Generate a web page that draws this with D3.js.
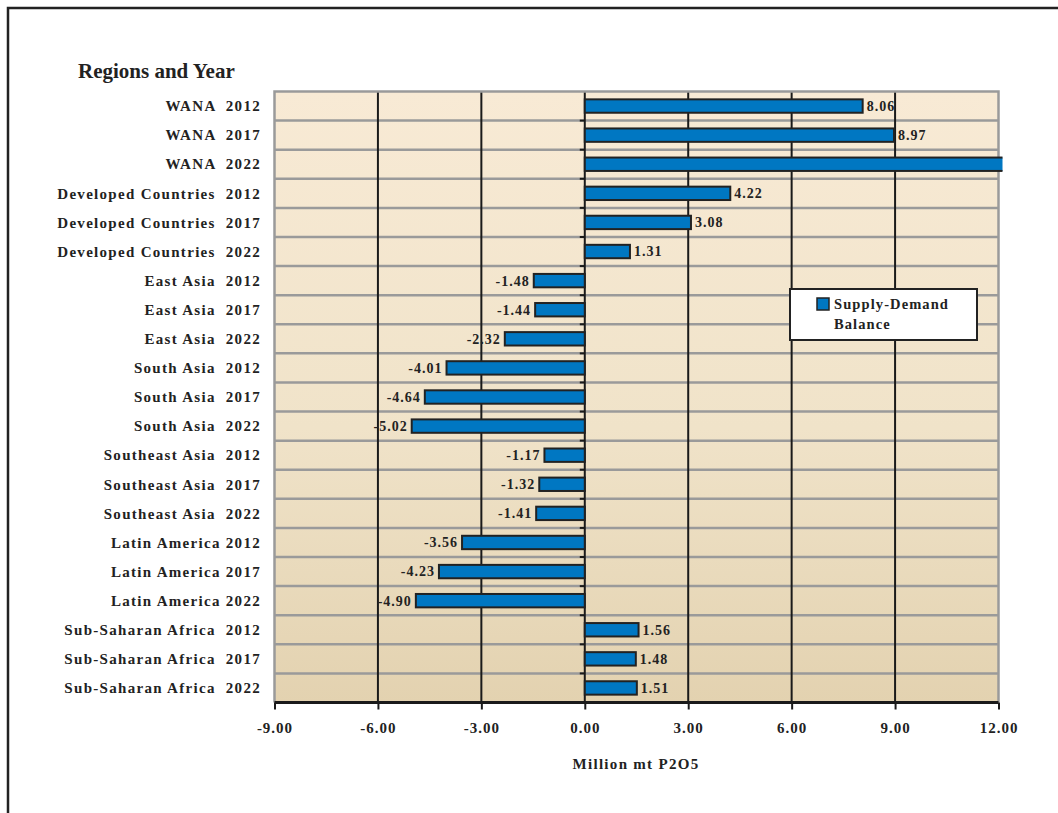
<!DOCTYPE html>
<html>
<head>
<meta charset="utf-8">
<script src="https://cdn.jsdelivr.net/npm/d3@7"></script>
<style>
  html, body { margin: 0; padding: 0; background: #fff; }
  svg { display: block; }
  text { font-family: "Liberation Serif", "Times New Roman", serif; font-weight: bold; fill: #222; }
</style>
</head>
<body>
<svg id="chart" width="1058" height="813"></svg>
<script>
// Regions/years, top to bottom
const categories = [
  "WANA  2012", "WANA  2017", "WANA  2022",
  "Developed Countries  2012", "Developed Countries  2017", "Developed Countries  2022",
  "East Asia  2012", "East Asia  2017", "East Asia  2022",
  "South Asia  2012", "South Asia  2017", "South Asia  2022",
  "Southeast Asia  2012", "Southeast Asia  2017", "Southeast Asia  2022",
  "Latin America 2012", "Latin America 2017", "Latin America 2022",
  "Sub-Saharan Africa  2012", "Sub-Saharan Africa  2017", "Sub-Saharan Africa  2022"
];
// Supply-demand balance, million mt P2O5
const balance = [
  8.06, 8.97, 12.6,
  4.22, 3.08, 1.31,
  -1.48, -1.44, -2.32,
  -4.01, -4.64, -5.02,
  -1.17, -1.32, -1.41,
  -3.56, -4.23, -4.90,
  1.56, 1.48, 1.51
];
const xTicks = [-9, -6, -3, 0, 3, 6, 9, 12];

const rows = categories.map((c, i) => ({ cat: c, value: balance[i] }));

const svg = d3.select("#chart");
const m = { left: 274.5, right: 998.5, top: 91.5, bottom: 702.5 };

const x = d3.scaleLinear().domain([-9, 12]).range([m.left, m.right]);
const y = d3.scaleBand().domain(categories).range([m.top, m.bottom]).paddingInner(0.54).paddingOuter(0.27);
const step = y.step();

// outer frame
svg.append("rect").attr("x", 8).attr("y", 8).attr("width", 1070).attr("height", 830)
  .attr("fill", "none").attr("stroke", "#222").attr("stroke-width", 2.5);

// plot background gradient
const defs = svg.append("defs");
const grad = defs.append("linearGradient").attr("id", "bg").attr("x1", 0).attr("y1", 0).attr("x2", 0).attr("y2", 1);
grad.append("stop").attr("offset", "0%").attr("stop-color", "#f8ead5");
grad.append("stop").attr("offset", "55%").attr("stop-color", "#f0e3c9");
grad.append("stop").attr("offset", "100%").attr("stop-color", "#e3d2b0");
defs.append("clipPath").attr("id", "plotClip").append("rect")
  .attr("x", m.left - 2).attr("y", m.top - 2).attr("width", m.right - m.left + 6).attr("height", m.bottom - m.top + 4);

svg.append("rect").attr("x", m.left).attr("y", m.top).attr("width", m.right - m.left).attr("height", m.bottom - m.top)
  .attr("fill", "url(#bg)");

// horizontal separators between rows
const rowBounds = d3.range(1, categories.length).map(i => m.top + i * step);
svg.append("g").selectAll("line").data(rowBounds).join("line")
  .attr("x1", m.left).attr("x2", m.right).attr("y1", d => d).attr("y2", d => d)
  .attr("stroke", "#9a9a9a").attr("stroke-width", 2.5);

// vertical gridlines
svg.append("g").selectAll("line").data(xTicks.filter(t => t > -9 && t < 12)).join("line")
  .attr("x1", d => x(d)).attr("x2", d => x(d)).attr("y1", m.top).attr("y2", m.bottom)
  .attr("stroke", "#1a1a1a").attr("stroke-width", 2);

// plot border (grey top/left/right)
svg.append("path")
  .attr("d", `M${m.left},${m.bottom}V${m.top}H${m.right}V${m.bottom}`)
  .attr("fill", "none").attr("stroke", "#9a9a9a").attr("stroke-width", 2.5);

// small ticks on the zero line at row boundaries
svg.append("g").selectAll("line").data(rowBounds).join("line")
  .attr("x1", x(0) - 5).attr("x2", x(0)).attr("y1", d => d).attr("y2", d => d)
  .attr("stroke", "#1a1a1a").attr("stroke-width", 2);

// bars
svg.append("g").attr("clip-path", "url(#plotClip)").selectAll("rect").data(rows).join("rect")
  .attr("x", d => x(Math.min(0, d.value)))
  .attr("y", d => y(d.cat))
  .attr("width", d => Math.abs(x(d.value) - x(0)))
  .attr("height", y.bandwidth())
  .attr("fill", "#0077c2").attr("stroke", "#222").attr("stroke-width", 2);

// value labels (bars running past the axis end carry none)
svg.append("g").selectAll("text").data(rows.filter(d => d.value <= 12)).join("text")
  .attr("x", d => d.value >= 0 ? x(d.value) + 4 : x(d.value) - 4)
  .attr("y", d => y(d.cat) + y.bandwidth() / 2)
  .attr("dy", "0.35em")
  .attr("text-anchor", d => d.value >= 0 ? "start" : "end")
  .attr("font-size", 14).attr("letter-spacing", 1)
  .text(d => d.value.toFixed(2));

// category labels
svg.append("g").selectAll("text").data(categories).join("text")
  .attr("x", 261).attr("y", d => y(d) + y.bandwidth() / 2)
  .attr("dy", "0.35em").attr("text-anchor", "end").attr("font-size", 15)
  .attr("letter-spacing", 1.3)
  .attr("xml:space", "preserve")
  .text(d => d);

// x axis
const xAxis = svg.append("g").attr("transform", `translate(0,${m.bottom})`)
  .call(d3.axisBottom(x).tickValues(xTicks).tickSize(7).tickPadding(13).tickFormat(d => d.toFixed(2)));
xAxis.select(".domain").attr("stroke", "#1a1a1a").attr("stroke-width", 3).attr("d", `M${m.left},0H${m.right}`);
xAxis.selectAll(".tick line").attr("stroke", "#1a1a1a").attr("stroke-width", 2);
xAxis.selectAll(".tick text").attr("font-size", 15).attr("fill", "#222").attr("letter-spacing", 1)
  .attr("font-family", "Liberation Serif, serif").attr("font-weight", "bold");

// axis title
svg.append("text").attr("x", 636).attr("y", 769).attr("text-anchor", "middle").attr("font-size", 15)
  .attr("letter-spacing", 1.3)
  .text("Million mt P2O5");

// y title
svg.append("text").attr("x", 78).attr("y", 78).attr("font-size", 21).text("Regions and Year");

// legend
const lg = svg.append("g");
lg.append("rect").attr("x", 790).attr("y", 289).attr("width", 187).attr("height", 51)
  .attr("fill", "#fff").attr("stroke", "#222").attr("stroke-width", 2);
lg.append("rect").attr("x", 817).attr("y", 298).attr("width", 12).attr("height", 12)
  .attr("fill", "#0077c2").attr("stroke", "#222").attr("stroke-width", 1.5);
lg.append("text").attr("x", 834).attr("y", 309).attr("font-size", 14.5).attr("letter-spacing", 1.1).text("Supply-Demand");
lg.append("text").attr("x", 834).attr("y", 329).attr("font-size", 14.5).attr("letter-spacing", 1.1).text("Balance");
</script>
</body>
</html>
